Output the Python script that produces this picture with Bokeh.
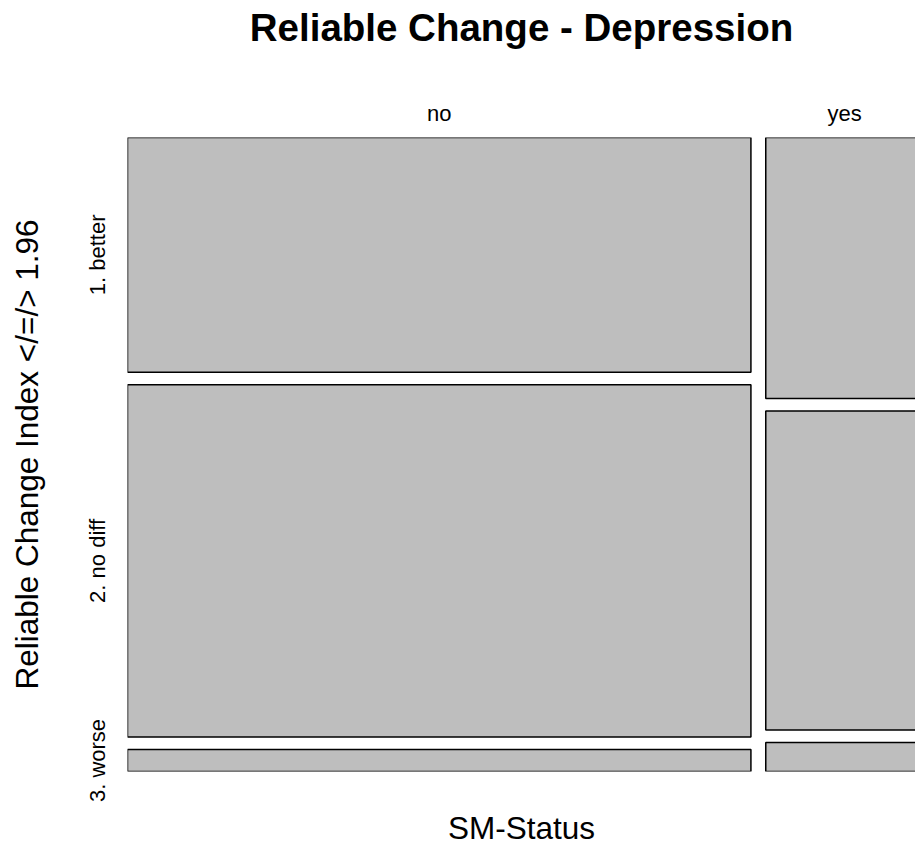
from bokeh.plotting import figure
from bokeh.models import Range1d, LinearAxis, FixedTicker, CustomJSTickFormatter
from bokeh.embed import file_html
from bokeh.resources import INLINE

# ---- data ----
columns = ["no", "yes"]
rows = ["1. better", "2. no diff", "3. worse"]
counts_no = [32, 48, 3]
counts_yes = [9, 11, 1]
title_text = "Reliable Change - Depression"
x_label = "SM-Status"
y_label = "Reliable Change Index </=/> 1.96"

table = {"no": counts_no, "yes": counts_yes}

# ---- mosaic layout (relative units) ----
GAP_X = 0.019
GAP_Y = 0.0205
grand = sum(sum(v) for v in table.values())
left, right, top, bottom = [], [], [], []
col_centers = []
row_centers_first = None
x0 = 0.0
y_max = 1 + GAP_Y * (len(rows) - 1)
for c in columns:
    vals = table[c]
    tot = sum(vals)
    w = tot / grand
    col_centers.append(x0 + w / 2)
    y_top = y_max
    centers = []
    for v in vals:
        h = v / tot
        left.append(x0)
        right.append(x0 + w)
        top.append(y_top)
        bottom.append(y_top - h)
        centers.append(y_top - h / 2)
        y_top -= h + GAP_Y
    if row_centers_first is None:
        row_centers_first = centers
    x0 += w + GAP_X

FONT = "Liberation Sans"

# the right-hand column runs past the edge of the picture, as in the original
x_view_end = (1 + GAP_X) * 788 / 796

p = figure(width=915, height=848, x_range=Range1d(0, x_view_end), y_range=Range1d(0, y_max),
           output_backend="svg", toolbar_location=None,
           x_axis_location=None, y_axis_location=None,
           min_border_left=127, min_border_right=0, min_border_top=137, min_border_bottom=77)
p.outline_line_color = None
p.grid.grid_line_color = None

p.quad(left=left, right=right, top=top, bottom=bottom,
       fill_color="#bebebe", line_color="black", line_width=1.5)

fmt_code = """
const i = tvals.findIndex(t => Math.abs(t - tick) < 1e-9);
return i >= 0 ? tlabels[i] : "";
"""

def style_axis(ax):
    ax.axis_line_color = None
    ax.major_tick_line_color = None
    ax.minor_tick_line_color = None
    ax.major_tick_out = 0
    ax.major_tick_in = 0
    ax.major_label_text_font = FONT
    ax.major_label_text_font_size = "22px"
    ax.major_label_text_color = "black"
    ax.axis_label_text_font = FONT
    ax.axis_label_text_font_size = "31.5px"
    ax.axis_label_text_font_style = "normal"
    ax.axis_label_text_color = "black"

# top axis: column labels, with the chart title as its axis label
top_axis = LinearAxis(ticker=FixedTicker(ticks=col_centers),
                      formatter=CustomJSTickFormatter(args=dict(tvals=col_centers, tlabels=columns), code=fmt_code),
                      axis_label=title_text)
style_axis(top_axis)
top_axis.major_label_standoff = 12
top_axis.axis_label_text_font_size = "38.5px"
top_axis.axis_label_text_font_style = "bold"
top_axis.axis_label_standoff = 49
p.add_layout(top_axis, "above")

left_axis = LinearAxis(ticker=FixedTicker(ticks=row_centers_first),
                       formatter=CustomJSTickFormatter(args=dict(tvals=row_centers_first, tlabels=rows), code=fmt_code),
                       axis_label=y_label)
style_axis(left_axis)
left_axis.major_label_orientation = "vertical"
left_axis.major_label_standoff = 17
left_axis.axis_label_standoff = 38
p.add_layout(left_axis, "left")

bottom_axis = LinearAxis(ticker=FixedTicker(ticks=[]), axis_label=x_label)
style_axis(bottom_axis)
bottom_axis.major_label_standoff = 0
bottom_axis.axis_label_standoff = 38
p.add_layout(bottom_axis, "below")

open("out.html", "w").write(file_html(p, INLINE))
